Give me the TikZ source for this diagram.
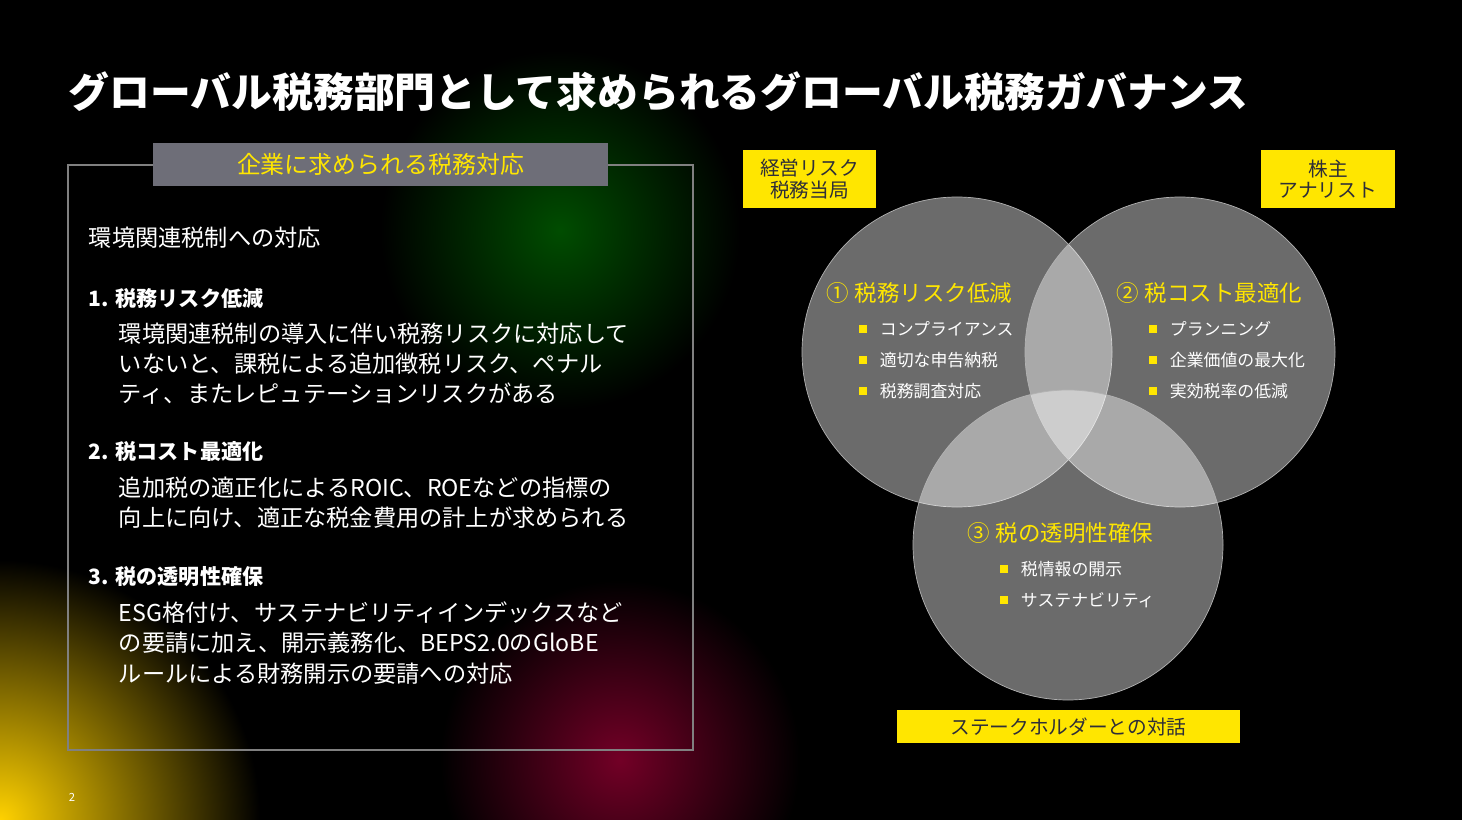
\documentclass[tikz,border=0pt]{standalone}
\usepackage{fontspec}
\setmainfont{Noto Sans CJK JP}
\usepackage{xcolor}
\usetikzlibrary{positioning}
\definecolor{accent}{HTML}{FFE600}
\definecolor{boxgray}{HTML}{6E6E78}
\definecolor{textdark}{HTML}{2E2E38}

\begin{document}
\begin{tikzpicture}[
        x=0.025cm, y=-0.025cm,
        venn/.style={circle, draw=white!70!black, line width=0.5pt, fill=white, fill opacity=0.42, minimum size=310*0.025cm, inner sep=0pt},
        vtitle/.style={text=accent, font=\fontsize{16}{18}\selectfont, anchor=west},
        item/.style={text=white, font=\fontsize{12}{14}\selectfont, anchor=west},
        bullet/.style={fill=accent, minimum size=0.2cm, inner sep=0pt},
        tag/.style={fill=accent, text=textdark, font=\fontsize{14}{15}\selectfont, align=center, inner sep=0pt},
        body/.style={text=white, font=\fontsize{16.5}{21.5}\selectfont, anchor=north west, align=left}
    ]
        % Background
        \useasboundingbox (0,0) rectangle (1462,820);
        \fill[black] (0,0) rectangle (1462,820);
        \begin{scope}
            \clip (0,0) rectangle (1462,820);
            \shade[inner color=accent!80!orange, outer color=black] (-260,560) rectangle (260,1080);
            \shade[inner color=green!30!black, outer color=black] (380,50) rectangle (740,410);
            \shade[inner color=purple!60!black, outer color=black] (440,580) rectangle (800,940);
        \end{scope}

        % Title
        \node[anchor=west, text=white, font=\fontsize{29}{31}\bfseries\selectfont] (title) at (64,92) {グローバル税務部門として求められるグローバル税務ガバナンス};

        % Left panel
        \draw[gray, line width=0.8pt] (68,165) rectangle (693,750);
        \node[fill=boxgray, minimum width=455*0.025cm, minimum height=43*0.025cm, text=accent, font=\fontsize{17}{19}\selectfont] (panelhead) at (380.5,164.5) {企業に求められる税務対応};
        \node[body] (intro) at (84,222) {環境関連税制への対応};
        \node[body, font=\fontsize{15}{20}\bfseries\selectfont] (h1) at (84,283) {1. 税務リスク低減};
        \node[body] (t1) at (114,318) {環境関連税制の導入に伴い税務リスクに対応して\\いないと、課税による追加徴税リスク、ペナル\\ティ、またレピュテーションリスクがある};
        \node[body, font=\fontsize{15}{20}\bfseries\selectfont] (h2) at (84,436) {2. 税コスト最適化};
        \node[body] (t2) at (114,472) {追加税の適正化によるROIC、ROEなどの指標の\\向上に向け、適正な税金費用の計上が求められる};
        \node[body, font=\fontsize{15}{20}\bfseries\selectfont] (h3) at (84,561) {3. 税の透明性確保};
        \node[body] (t3) at (114,597) {ESG格付け、サステナビリティインデックスなど\\の要請に加え、開示義務化、BEPS2.0のGloBE\\ルールによる財務開示の要請への対応};

        % Venn circles
        \node[venn] (riskc) at (957,352) {};
        \node[venn] (costc) at (1180,352) {};
        \node[venn] (openc) at (1068,545) {};

        % Circle texts
        \node[vtitle] (risk) at (822,293) {① 税務リスク低減};
        \foreach \t [count=\i] in {コンプライアンス, 適切な申告納税, 税務調査対応}
            \node[item] (riskitem\i) at (875,298+31*\i) {\t};
        \node[vtitle] (cost) at (1112,293) {② 税コスト最適化};
        \foreach \t [count=\i] in {プランニング, 企業価値の最大化, 実効税率の低減}
            \node[item] (costitem\i) at (1165,298+31*\i) {\t};
        \node[vtitle] (open) at (963,533) {③ 税の透明性確保};
        \foreach \t [count=\i] in {税情報の開示, サステナビリティ}
            \node[item] (openitem\i) at (1016,538+31*\i) {\t};
        \foreach \n in {riskitem1,riskitem2,riskitem3,costitem1,costitem2,costitem3,openitem1,openitem2}
            \node[bullet, left=0.2cm of \n] {};

        % Stakeholder tags
        \node[tag, minimum width=133*0.025cm, minimum height=58*0.025cm] (authority) at (809.5,179) {経営リスク\\税務当局};
        \node[tag, minimum width=134*0.025cm, minimum height=58*0.025cm] (investor) at (1328,179) {株主\\アナリスト};
        \node[tag, minimum width=343*0.025cm, minimum height=33*0.025cm] (dialogue) at (1068.5,726.5) {ステークホルダーとの対話};

        % Page number
        \node[text=white, font=\fontsize{8}{9}\selectfont] (page) at (72,797) {2};
    \end{tikzpicture}
\end{document}
